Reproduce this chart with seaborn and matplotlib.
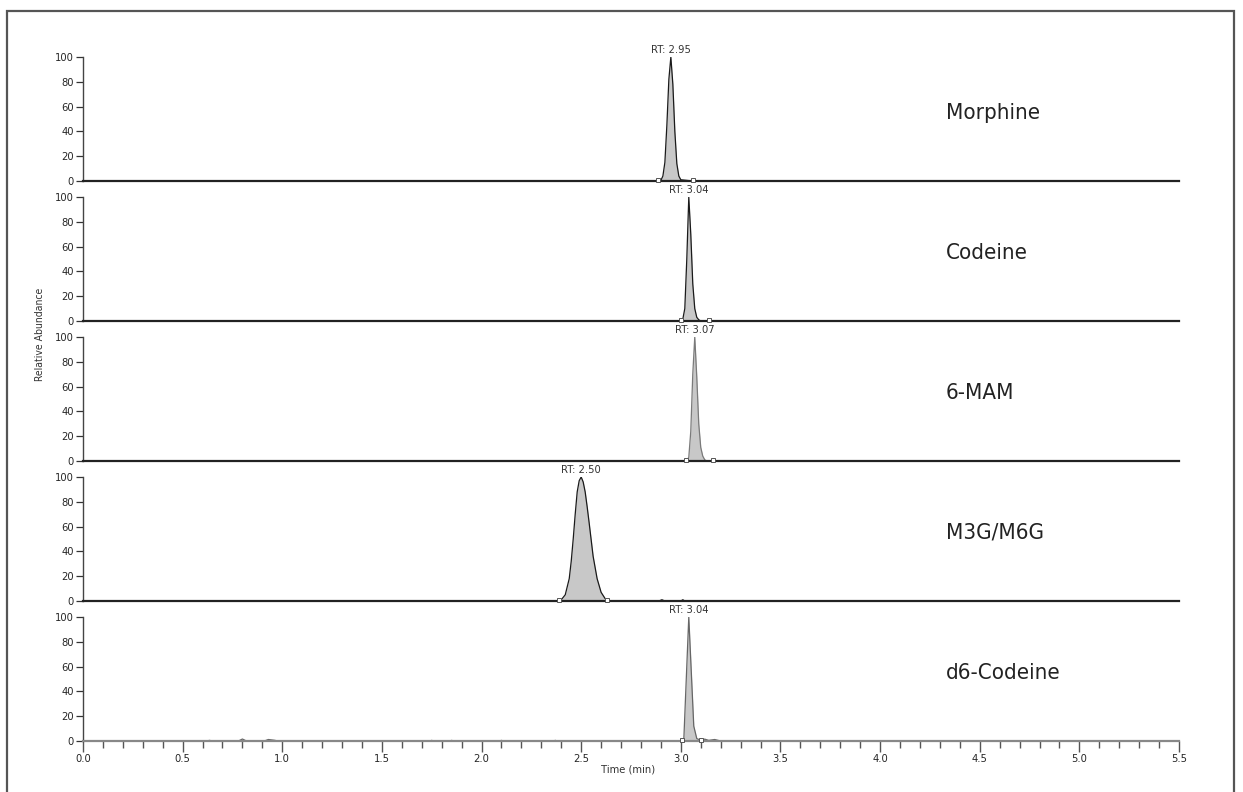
import matplotlib
matplotlib.use("Agg")
import matplotlib.pyplot as plt
from matplotlib.patches import Rectangle
from matplotlib.ticker import MultipleLocator
import pandas as pd
import seaborn as sns

sns.set_style("white")
plt.rcParams["font.family"] = ["DejaVu Sans"]
plt.rcParams["font.stretch"] = "condensed"

# ---- data -----------------------------------------------------------------
compounds = ["Morphine", "Codeine", "6-MAM", "M3G/M6G", "d6-Codeine"]
retention_times = [2.95, 3.04, 3.07, 2.50, 3.04]
peak_starts = [2.885, 3.000, 3.025, 2.390, 3.005]
peak_ends = [3.060, 3.140, 3.160, 2.630, 3.100]

morphine_t = [0.0, 2.88, 2.90, 2.91, 2.92, 2.93, 2.94, 2.95, 2.96, 2.97, 2.98,
              2.99, 3.00, 3.06, 5.5]
morphine_y = [0, 0, 0.5, 4, 15, 45, 82, 100, 78, 40, 14, 4, 1, 0, 0]

codeine_t = [0.0, 3.00, 3.01, 3.02, 3.03, 3.04, 3.05, 3.06, 3.07, 3.08, 3.09,
             3.10, 5.5]
codeine_y = [0, 0, 1.5, 10, 50, 100, 70, 30, 10, 3, 1, 0, 0]

mam_t = [0.0, 3.03, 3.04, 3.05, 3.06, 3.07, 3.08, 3.09, 3.10, 3.11, 3.12,
         3.13, 5.5]
mam_y = [0, 0, 3, 24, 70, 100, 68, 30, 11, 4, 1, 0, 0]

m3g_t = [0.0, 2.38, 2.40, 2.42, 2.44, 2.45, 2.46, 2.47, 2.48, 2.49, 2.50,
         2.51, 2.52, 2.53, 2.54, 2.56, 2.58, 2.60, 2.62, 2.64, 2.89, 2.905,
         2.92, 3.00, 3.01, 3.02, 5.5]
m3g_y = [0, 0, 1, 5, 18, 32, 50, 70, 88, 97, 100, 96, 88, 76, 63, 36, 18, 7,
         2, 0, 0, 1.0, 0, 0, 1.0, 0, 0]

d6_t = [0.0, 0.62, 0.635, 0.65, 0.78, 0.80, 0.82, 0.91, 0.93, 0.96, 0.98,
        1.74, 1.75, 1.76, 1.84, 1.85, 1.86, 2.09, 2.10, 2.11, 2.36, 2.37,
        2.38, 3.00, 3.015, 3.04, 3.065, 3.08, 3.10, 3.12, 3.14, 3.17, 3.20,
        5.5]
d6_y = [0, 0, 0.5, 0, 0, 1.6, 0, 0, 1.2, 0.6, 0, 0, 0.5, 0, 0, 0.5, 0,
        0, 0.5, 0, 0, 0.5, 0, 0, 1, 100, 12, 2, 0.5, 1.5, 0.5, 1.2, 0, 0]

traces = [(morphine_t, morphine_y), (codeine_t, codeine_y), (mam_t, mam_y),
          (m3g_t, m3g_y), (d6_t, d6_y)]

# ---- styling --------------------------------------------------------------
line_colors = ["#1a1a1a", "#1a1a1a", "#7a7a7a", "#1a1a1a", "#666666"]
fill_color = "#c8c8c8"
W, H = 1243, 792
fig = plt.figure(figsize=(W / 100, H / 100), dpi=100)

left_px, right_px = 83, 1179
top0_px, panel_h_px, step_px = 57, 124, 140

for i, (name, rt, t0, t1, (ts, ys)) in enumerate(
        zip(compounds, retention_times, peak_starts, peak_ends, traces)):
    top = top0_px + i * step_px
    ax = fig.add_axes([left_px / W, 1 - (top + panel_h_px) / H,
                       (right_px - left_px) / W, panel_h_px / H])
    df = pd.DataFrame({"time": ts, "abundance": ys})
    peak = df[(df["time"] >= t0) & (df["time"] <= t1)]
    ax.fill_between(peak["time"], 0, peak["abundance"], color=fill_color,
                    lw=0, zorder=1)
    sns.lineplot(data=df, x="time", y="abundance", ax=ax, estimator=None,
                 sort=False, color=line_colors[i], lw=0.9, zorder=2)
    # integration boundary markers
    ax.plot([t0, t1], [1.2, 1.2], ls="none", marker="s", ms=3.5,
            mfc="white", mec="#555555", mew=0.7, clip_on=False, zorder=3)

    ax.set_xlim(0, 5.5)
    ax.set_ylim(0, 100)
    ax.set_yticks([0, 20, 40, 60, 80, 100])
    ax.tick_params(axis="y", direction="out", length=5, width=0.9,
                   color="#333333", labelsize=8, pad=1.5, left=True)
    ax.set_xlabel("")
    ax.set_ylabel("")
    for s in ("top", "right"):
        ax.spines[s].set_visible(False)
    ax.spines["left"].set_color("#444444")
    ax.spines["left"].set_linewidth(1.0)
    last = i == len(compounds) - 1
    ax.spines["bottom"].set_color("#888888" if last else "#222222")
    ax.spines["bottom"].set_linewidth(1.6)
    ax.patch.set_alpha(0)

    ax.text(rt, 101.5, f"RT: {rt:.2f}", ha="center", va="bottom",
            fontsize=8, color="#333333", clip_on=False, zorder=5)
    ax.text(4.33, 55, name, ha="left", va="center", fontsize=16,
            color="#222222")

    if last:
        ax.xaxis.set_major_locator(MultipleLocator(0.5))
        ax.xaxis.set_minor_locator(MultipleLocator(0.1))
        ax.tick_params(axis="x", which="major", direction="out", length=8,
                       width=1.0, color="#555555", labelsize=8, pad=1.5,
                       bottom=True)
        ax.tick_params(axis="x", which="minor", direction="out", length=5,
                       width=1.0, color="#555555", bottom=True)
        ax.set_xticklabels([f"{v:.1f}" for v in ax.get_xticks()])
    else:
        ax.set_xticks([])

fig.text(628 / W, 1 - 770 / H, "Time (min)", ha="center", va="center",
         fontsize=8, color="#333333")
fig.text(40 / W, 1 - 334 / H, "Relative Abundance", ha="center",
         va="center", rotation=90, fontsize=7.5, color="#333333")

# outer frame
fig.patches.append(Rectangle((7 / W, -0.05), (1234 - 7) / W,
                             1.05 - 11 / H, transform=fig.transFigure,
                             fill=False, ec="#555555", lw=1.6))

fig.savefig("out.png", dpi=100)
